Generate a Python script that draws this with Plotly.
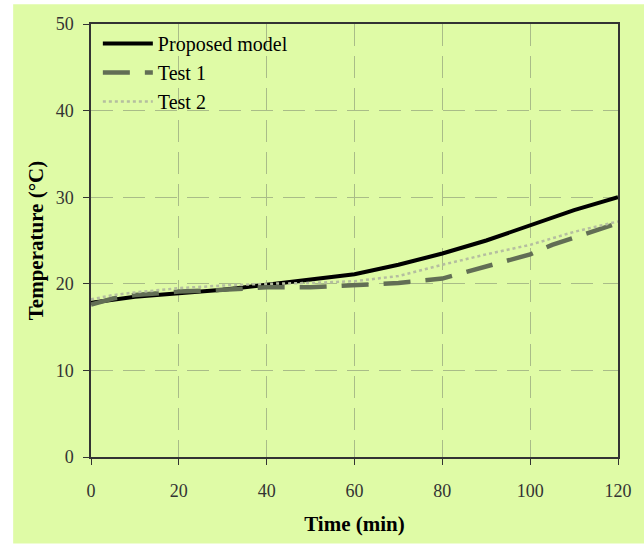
import plotly.graph_objects as go

# Data
t_model = [0, 5, 10, 20, 30, 40, 50, 60, 70, 80, 90, 100, 110, 120]
proposed = [17.8, 18.2, 18.5, 18.9, 19.3, 19.9, 20.5, 21.1, 22.2, 23.5, 25.0, 26.7, 28.5, 30.0]

t_test1 = [0, 5, 10, 20, 30, 40, 50, 60, 70, 80, 85, 90, 95, 100, 105, 110, 115, 120]
test1 = [17.6, 18.3, 18.7, 19.1, 19.3, 19.6, 19.6, 19.8, 20.1, 20.6, 21.3, 21.9, 22.7, 23.4, 24.5, 25.3, 26.1, 27.0]

t_test2 = [0, 5, 10, 20, 30, 40, 50, 60, 70, 80, 90, 100, 110, 120]
test2 = [18.2, 18.7, 19.0, 19.5, 19.8, 20.0, 20.1, 20.3, 20.9, 22.2, 23.4, 24.5, 26.0, 27.2]

x_ticks = [0, 20, 40, 60, 80, 100, 120]
y_ticks = [0, 10, 20, 30, 40, 50]

GREEN = "#DFFBA6"
GRID = "#A9BC88"
FONT = "Liberation Serif"

fig = go.Figure()
fig.add_trace(go.Scatter(x=t_model, y=proposed, mode="lines", name="Proposed model",
                         line=dict(color="black", width=4)))
fig.add_trace(go.Scatter(x=t_test1, y=test1, mode="lines", name="Test 1",
                         line=dict(color="#626E55", width=4.5, dash="27px,15px")))
fig.add_trace(go.Scatter(x=t_test2, y=test2, mode="lines", name="Test 2",
                         line=dict(color="#B5BEA0", width=2.5, dash="dot")))

fig.add_shape(type="rect", xref="paper", yref="paper", x0=-0.1477, x1=1.05, y0=-0.2, y1=1.0459,
              fillcolor=GREEN, line=dict(width=0), layer="below")

axis_common = dict(showline=True, linecolor="#333333", linewidth=1.5, mirror=True,
                   ticks="outside", ticklen=6, tickcolor="#333333", tickwidth=1,
                   showgrid=True, gridcolor=GRID, griddash="22px,10px", gridwidth=1,
                   zeroline=False, tickfont=dict(family=FONT, size=18, color="#333333"))

fig.update_xaxes(range=[0, 120], tickvals=x_ticks, ticklabelstandoff=11,
                 title=dict(text="<b>Time (min)</b>", font=dict(family=FONT, size=21, color="black"), standoff=16),
                 **axis_common)
fig.update_yaxes(range=[0, 50], tickvals=y_ticks, ticklabelstandoff=6,
                 title=dict(text="<b>Temperature (°C)</b>", font=dict(family=FONT, size=21, color="black"), standoff=6),
                 **axis_common)

fig.update_layout(
    width=644, height=544,
    margin=dict(l=91, r=25, t=24, b=84),
    paper_bgcolor="white", plot_bgcolor=GREEN,
    showlegend=True,
    legend=dict(x=0.013, y=1.0, xanchor="left", yanchor="top", bgcolor="rgba(0,0,0,0)",
                font=dict(family=FONT, size=20, color="black"), tracegroupgap=0, itemwidth=50),
)

fig.write_html("out.html")
